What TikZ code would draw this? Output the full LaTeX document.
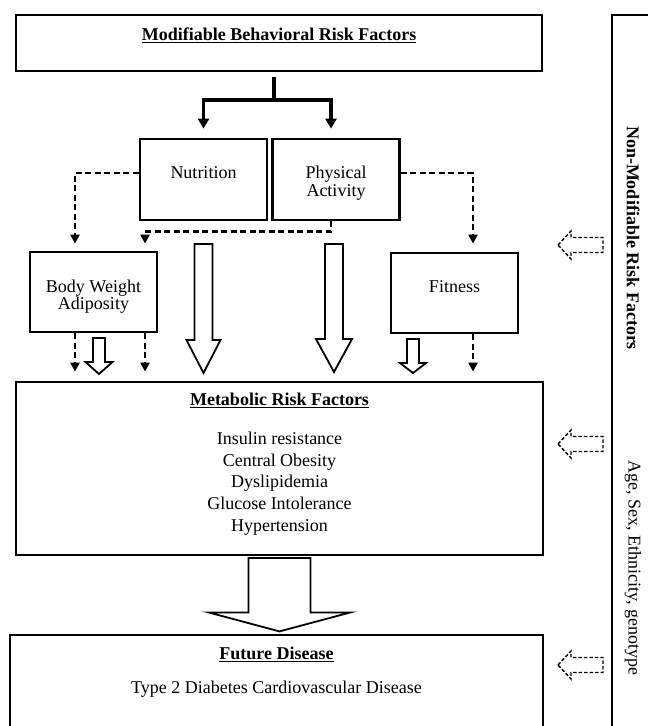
\documentclass[tikz,border=0pt]{standalone}
\usepackage{fontspec}
\setmainfont{Liberation Serif}
\usetikzlibrary{positioning, calc, arrows.meta}
\newcommand{\ulhead}[1]{\sbox0{#1}\rlap{\rule[-2.6pt]{\wd0}{1.4pt}}\usebox0}
\tikzset{
  txt/.style={font=\fontsize{18}{17.5}\selectfont, align=center, inner sep=0pt},
  hd/.style={txt, font=\fontsize{18}{17.5}\selectfont\bfseries},
  box/.style={txt, draw, line width=2.8pt, minimum width=127pt, minimum height=80pt},
  wide/.style={draw, line width=2.8pt, inner sep=0pt},
  solidline/.style={line width=3.6pt},
  solidarrow/.style={solidline, -{Triangle[length=10pt,width=11pt]}},
  dasharrow/.style={line width=2.4pt, dash pattern=on 6pt off 3.5pt, -{Triangle[length=9pt,width=9pt]}},
  hollow/.style={line width=1.8pt, fill=white, line join=miter},
  hollowdash/.style={line width=1.4pt, fill=white, dash pattern=on 3.5pt off 2pt},
  pics/downarrow/.style n args={4}{code={
    \draw[hollow] (-#2,0) -- (#2,0) -- (#2,#1-#4) -- (#3,#1-#4) -- (0,#1)
      -- (-#3,#1-#4) -- (-#2,#1-#4) -- cycle;}},
  pics/leftarrow/.style={code={
    \draw[hollowdash] (0,0) -- (13,-14) -- (13,-7.5) -- (45,-7.5) -- (45,7.5)
      -- (13,7.5) -- (13,14) -- cycle;}},
}
\begin{document}
\begin{tikzpicture}[x=1pt, y=-1pt]
  \useasboundingbox (0,0) rectangle (648,726);
  \clip (0,0) rectangle (648,726);
  %
  \node[wide, minimum width=526pt, minimum height=56pt] (mbrf) at (279,43) {};
  \node[hd] (mbrft) at ([yshift=-22pt]mbrf.north) {\ulhead{Modifiable Behavioral Risk Factors}};
  %
  \node[box, minimum height=81pt, label={[txt, yshift=7pt]center:Nutrition}] (nutr) at (203.5,179.5) {};
  \node[box, minimum height=81pt, label={[txt, yshift=-3.5pt]center:Physical\\Activity}] (phys) at (336,179.5) {};
  \node[box, label={[txt, yshift=-4.5pt]center:Body Weight\\Adiposity}] (body) at (93.5,292) {};
  \node[box, label={[txt, yshift=6pt]center:Fitness}] (fit) at (454.5,293) {};
  %
  \node[wide, minimum width=527pt, minimum height=173pt] (metab) at (279.5,468.5) {};
  \node[hd] (metabt) at ([yshift=-20pt]metab.north) {\ulhead{Metabolic Risk Factors}};
  \node[txt, font=\fontsize{18}{21.7}\selectfont] (metabl) at ([yshift=-103pt]metab.north)
    {Insulin resistance\\Central Obesity\\Dyslipidemia\\Glucose Intolerance\\Hypertension};
  %
  \node[wide, minimum width=533pt, minimum height=120pt] (future) at (276.5,695) {};
  \node[hd] (futuret) at ([yshift=-21pt]future.north) {\ulhead{Future Disease}};
  \node[txt] (futurel) at ([yshift=-56pt]future.north) {Type 2 Diabetes Cardiovascular Disease};
  %
  \node[wide, minimum width=88pt, minimum height=745pt] (nonmod) at (656,387.5) {};
  \node[hd, rotate=-90] (nonmodt) at (633,238) {Non-Modifiable Risk Factors};
  \node[txt, rotate=-90] (nonmodl) at (633,568) {Age, Sex, Ethnicity, genotype};
  %
  \coordinate (split) at (274,100);
  \draw[solidline] ([xshift=-5pt,yshift=-5pt]mbrf.south) -- (split);
  \draw[solidarrow] (split) -| ([yshift=9pt]nutr.north);
  \draw[solidarrow] (split) -| ([xshift=-5pt,yshift=9pt]phys.north);
  %
  \draw[dasharrow] ([yshift=6.5pt]nutr.west) -| ([xshift=-18.5pt,yshift=7pt]body.north);
  \draw[dasharrow] ([xshift=-5pt]phys.south) -- ++(0,10) -| ([xshift=51.5pt,yshift=7pt]body.north);
  \draw[dasharrow] ([yshift=6.5pt]phys.east) -| ([xshift=18.5pt,yshift=8pt]fit.north);
  %
  \coordinate (mtop) at ([yshift=9pt]metab.north);
  \coordinate (bodyl) at ([xshift=-18.5pt]body.south);
  \coordinate (bodyr) at ([xshift=51.5pt]body.south);
  \coordinate (fitr) at ([xshift=18.5pt]fit.south);
  \foreach \c in {bodyl, bodyr, fitr}
    \draw[dasharrow] (\c) -- (\c |- mtop);
  %
  \pic at (203.5,244) {downarrow={129}{9}{17}{33}};
  \pic at (334,244) {downarrow={128}{9}{18}{33}};
  \pic at (99,338) {downarrow={36}{6}{13.5}{12}};
  \pic at (413,339) {downarrow={34}{6}{13}{10}};
  \pic at ([yshift=-1.5pt]metab.south) {downarrow={73.5}{31}{71}{19}};
  %
  \foreach \y in {245,444,665}
    \pic at (558,\y) {leftarrow};
\end{tikzpicture}
\end{document}
